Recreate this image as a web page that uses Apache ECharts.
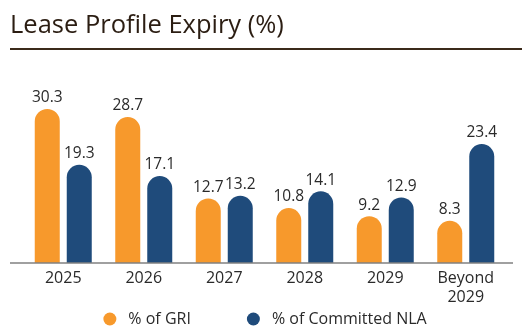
<!DOCTYPE html>
<html>
<head>
<meta charset="utf-8">
<script src="https://cdn.jsdelivr.net/npm/echarts@6/dist/echarts.min.js"></script>
<style>
html,body{margin:0;padding:0;background:#fff;}
#c{width:530px;height:335px;}
</style>
</head>
<body>
<div id="c"></div>
<script>
var categories = ['2025', '2026', '2027', '2028', '2029', 'Beyond\n2029'];
var griValues = [30.3, 28.7, 12.7, 10.8, 9.2, 8.3];
var nlaValues = [19.3, 17.1, 13.2, 14.1, 12.9, 23.4];
var seriesNames = ['% of GRI', '% of Committed NLA'];
var titleText = 'Lease Profile Expiry (%)';

var FONT = '"Open Sans", sans-serif';
var chart = echarts.init(document.getElementById('c'), null, {renderer: 'canvas'});
var labelCfg = {show: true, position: 'top', distance: 3, color: '#2a2a2a', fontSize: 15.5, fontFamily: FONT, formatter: function(p){ return p.value.toFixed(1); }};
chart.setOption({
  animation: false,
  textStyle: {fontFamily: FONT},
  title: {text: titleText, left: 5, top: 8, textStyle: {fontSize: 25.5, fontWeight: 'normal', color: '#2b1d12', fontFamily: FONT}},
  graphic: [
    {type: 'line', shape: {x1: 10, y1: 49, x2: 522, y2: 49}, style: {stroke: '#3b2a1a', lineWidth: 2}},
    {type: 'line', shape: {x1: 10, y1: 263, x2: 513, y2: 263}, style: {stroke: '#808080', lineWidth: 1.5}, z: 10}
  ],
  legend: {
    data: seriesNames, bottom: 3, left: 'center', itemGap: 56, icon: 'circle', itemWidth: 13, itemHeight: 13,
    textStyle: {fontSize: 16, color: '#2a2a2a', fontFamily: FONT, padding: [0, 0, 0, 7]}
  },
  grid: {left: 23, right: 24, top: 85, bottom: 72},
  xAxis: {
    type: 'category', data: categories,
    axisLine: {show: false}, axisTick: {show: false},
    axisLabel: {fontSize: 16, color: '#2a2a2a', margin: 6, lineHeight: 19, fontFamily: FONT}
  },
  yAxis: {type: 'value', min: 0, max: 35, show: false, splitLine: {show: false}},
  series: [
    {name: seriesNames[0], type: 'bar', data: griValues, barWidth: 25, barGap: '28%', itemStyle: {color: '#F7992C', borderRadius: [12.5, 12.5, 0, 0]}, label: labelCfg},
    {name: seriesNames[1], type: 'bar', data: nlaValues, barWidth: 25, itemStyle: {color: '#1F4B7B', borderRadius: [12.5, 12.5, 0, 0]}, label: labelCfg}
  ]
});
</script>
</body>
</html>
